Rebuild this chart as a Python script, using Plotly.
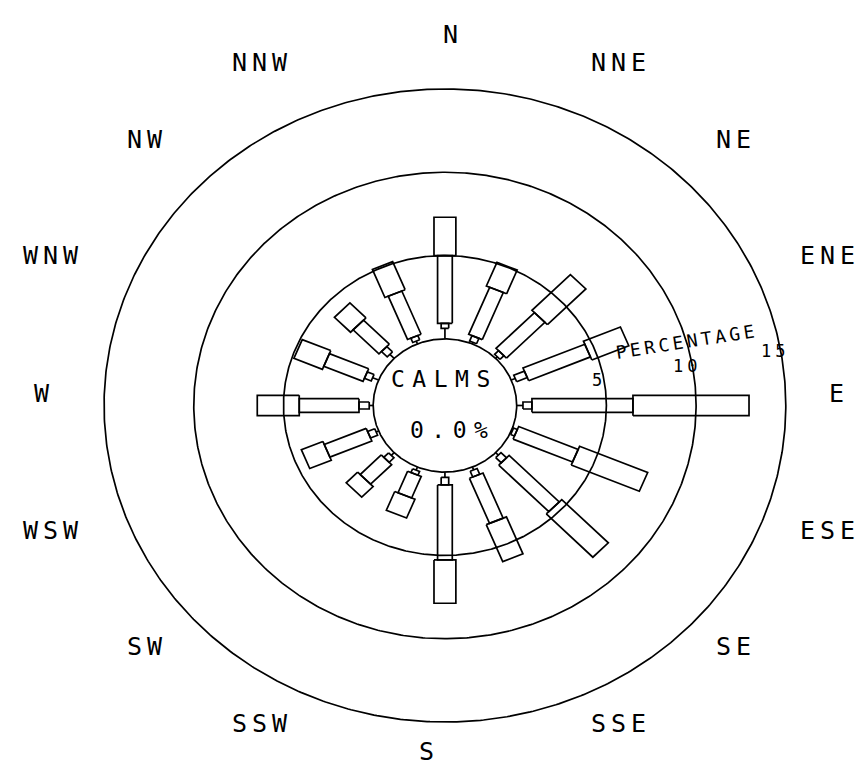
import numpy as np
import plotly.graph_objects as go

# Sixteen compass sectors, clockwise from north
directions = ["N", "NNE", "NE", "ENE", "E", "ESE", "SE", "SSE",
              "S", "SSW", "SW", "WSW", "W", "WNW", "NW", "NNW"]

# Frequency (%) of each wind-speed class per direction, lightest class first
speed_class_1 = [0.63, 0.10, 0.13, 0.24, 0.35, 0.05, 0.21, 0.18,
                 0.31, 0.20, 0.23, 0.15, 0.22, 0.36, 0.34, 0.18]
speed_class_2 = [0.30, 0.35, 0.31, 0.64, 0.50, 0.23, 0.44, 0.38,
                 0.46, 0.24, 0.38, 0.43, 0.57, 0.41, 0.45, 0.28]
speed_class_3 = [4.06, 3.06, 3.03, 3.73, 5.63, 3.59, 3.95, 2.93,
                 4.50, 1.40, 1.66, 2.53, 3.33, 2.37, 2.04, 2.81]
speed_class_4 = [2.31, 1.54, 3.03, 2.23, 6.47, 4.11, 3.67, 2.40,
                 2.60, 1.22, 0.90, 1.30, 2.34, 1.72, 1.27, 1.82]

calm_percent = 0.0
ring_values = [5, 10, 15]

# Drawing parameters (percent units)
CALM_R = 4.0                            # radius of the calm circle
CLASS_WIDTHS = [0.0, 0.42, 0.82, 1.22]  # bar width per speed class (0 = line)
LABEL_RX, LABEL_RY = 21.5, 21.5         # ellipse that carries the compass labels
LABEL_CX, LABEL_CY = -0.2, 0.75
FONT = "DejaVu Sans Mono"
LINE = dict(color="black", width=1.7)
LABEL_SPACING = 5


def spaced(text, px):
    return f'<span style="letter-spacing:{px}px">{text}</span>'


classes = np.array([speed_class_1, speed_class_2, speed_class_3, speed_class_4])
cumulative = np.cumsum(classes, axis=0)

fig = go.Figure()

# Calm circle and percentage rings
t = np.linspace(0, 2 * np.pi, 721)
ring_x, ring_y = [], []
for r in [CALM_R] + [CALM_R + v for v in ring_values]:
    ring_x += list(r * np.cos(t)) + [None]
    ring_y += list(r * np.sin(t)) + [None]
fig.add_trace(go.Scatter(x=ring_x, y=ring_y, mode="lines", line=LINE,
                         hoverinfo="skip", showlegend=False))

# Stacked bars: a line for the first class, rectangles for the others
bar_x, bar_y = [], []
for i, name in enumerate(directions):
    th = np.deg2rad(i * 22.5)
    u = np.array([np.sin(th), np.cos(th)])     # outward along the bar
    v = np.array([np.cos(th), -np.sin(th)])    # across the bar
    start = CALM_R
    for k in range(len(classes)):
        end = CALM_R + cumulative[k, i]
        h = CLASS_WIDTHS[k] / 2
        if h == 0:
            pts = [start * u, end * u]
        else:
            pts = [start * u + h * v, end * u + h * v,
                   end * u - h * v, start * u - h * v, start * u + h * v]
        for p in pts:
            bar_x.append(p[0])
            bar_y.append(p[1])
        bar_x.append(None)
        bar_y.append(None)
        start = end
fig.add_trace(go.Scatter(x=bar_x, y=bar_y, mode="lines", line=LINE,
                         hoverinfo="skip", showlegend=False))

annotations = []

# Ring labels, placed a little above the east axis
for v in ring_values:
    a = np.deg2rad(10)
    r = CALM_R + v - 0.3
    annotations.append(dict(x=r * np.cos(a), y=r * np.sin(a), text=spaced(str(v), 4),
                            showarrow=False, xanchor="center", yanchor="middle",
                            font=dict(family=FONT, size=17, color="black")))
a = np.deg2rad(16)
r = CALM_R + ring_values[1]
annotations.append(dict(x=r * np.cos(a), y=r * np.sin(a), text=spaced("PERCENTAGE", 3.5),
                        textangle=-9, showarrow=False, xanchor="center", yanchor="middle",
                        font=dict(family=FONT, size=18, color="black")))

# Calm summary inside the centre circle
annotations.append(dict(x=0, y=0.4 * CALM_R, text=spaced("CALMS", 7.5), showarrow=False,
                        xanchor="center", yanchor="middle",
                        font=dict(family=FONT, size=23, color="black")))
annotations.append(dict(x=0.1 * CALM_R, y=-0.37 * CALM_R,
                        text=spaced(f"{calm_percent:.1f}%", 7.5),
                        showarrow=False, xanchor="center", yanchor="middle",
                        font=dict(family=FONT, size=23, color="black")))

# Compass labels: east side starts at the ellipse, west side ends at it
for i, name in enumerate(directions):
    th = np.deg2rad(i * 22.5)
    x = LABEL_CX + LABEL_RX * np.sin(th)
    y = LABEL_CY + LABEL_RY * np.cos(th)
    east = i < 8
    annotations.append(dict(x=x, y=y, text=spaced(name, LABEL_SPACING), showarrow=False,
                            xanchor="left" if east else "right", yanchor="middle",
                            font=dict(family=FONT, size=25, color="black")))

fig.update_layout(
    width=859, height=769,
    margin=dict(l=0, r=0, t=0, b=0),
    paper_bgcolor="white", plot_bgcolor="white",
    xaxis=dict(range=[-24.80, 23.08], visible=False, fixedrange=True),
    yaxis=dict(range=[-21.82, 24.34], visible=False, fixedrange=True),
    annotations=annotations,
    showlegend=False,
)

fig.write_html("out.html")
